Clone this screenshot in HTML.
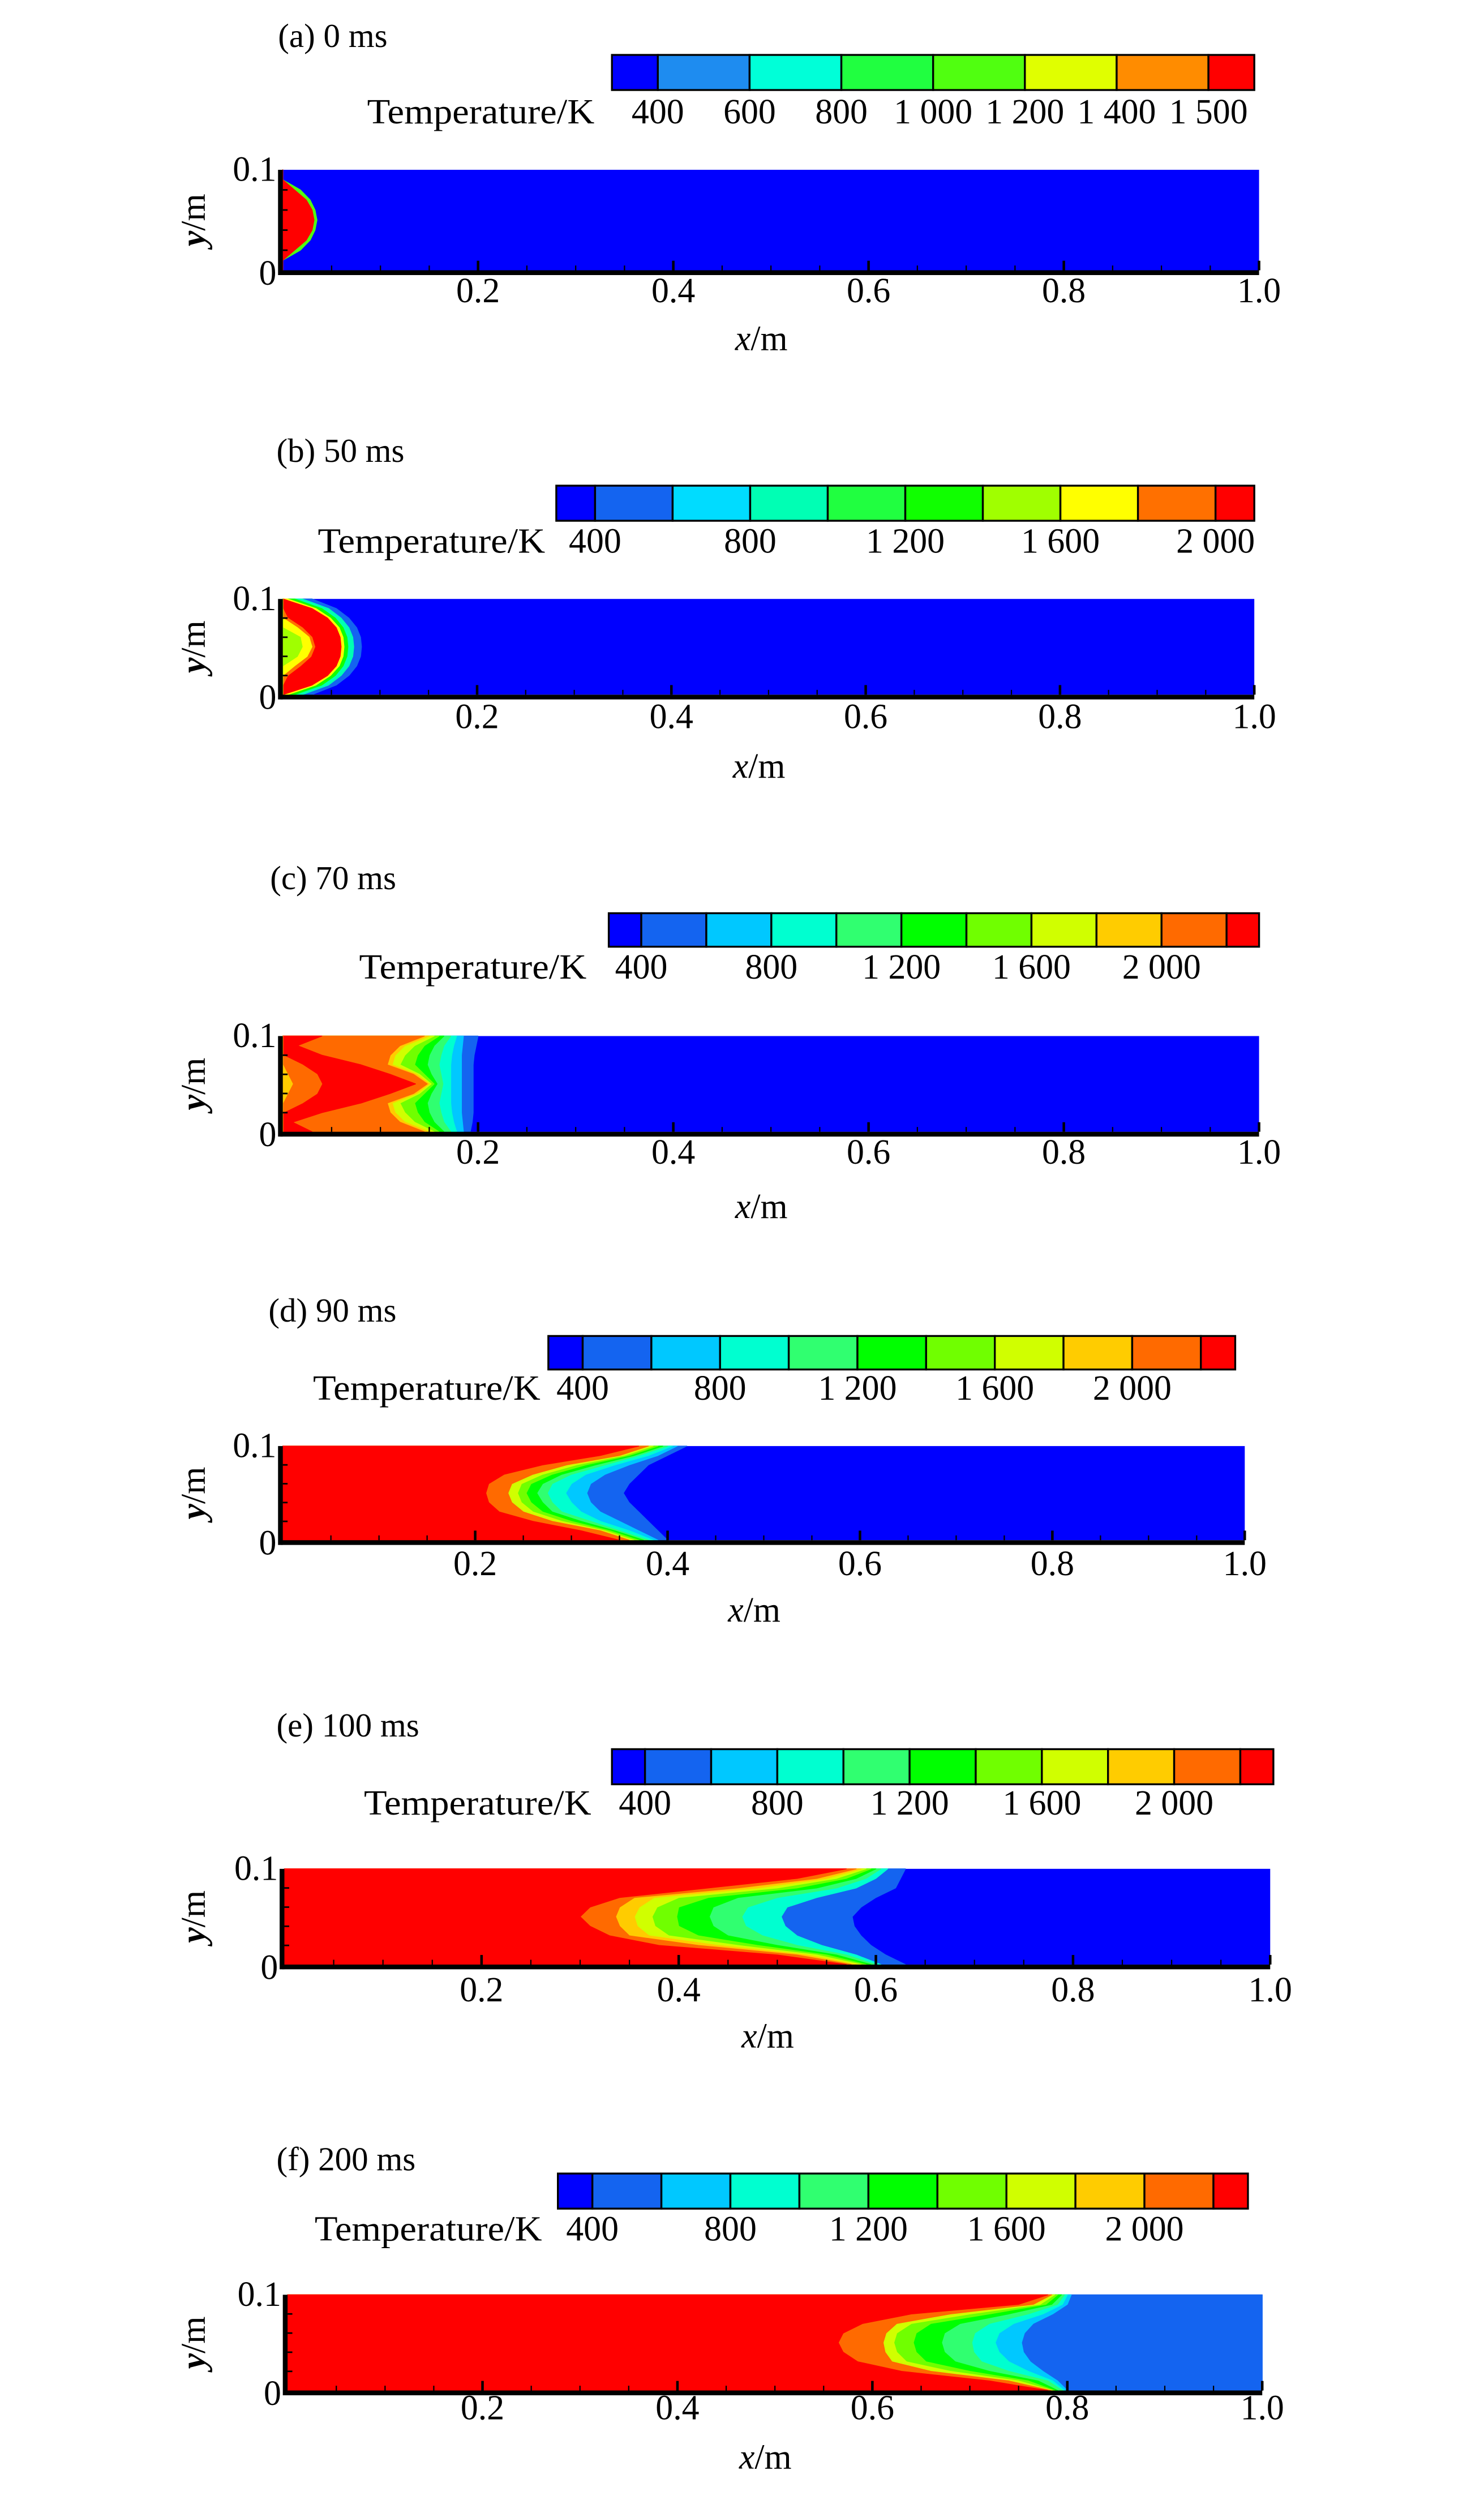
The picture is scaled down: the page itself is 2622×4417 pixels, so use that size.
<!DOCTYPE html>
<html><head><meta charset="utf-8"><title>Temperature contours</title>
<style>html,body{margin:0;padding:0;background:#fff;}svg{display:block;}text{font-family:"Liberation Serif",serif;fill:#000;}</style>
</head><body>
<svg id="fig" width="2622" height="4417" viewBox="0 0 924 1556" xmlns="http://www.w3.org/2000/svg"><g id="root" transform="matrix(0.99 0 0 0.9933 1.85 -0.85)"></g></svg>
<script>
// ---------- data ----------
const yGrid = [0,0.01,0.02,0.03,0.04,0.05,0.06,0.07,0.08,0.09,0.1];
const xTicks = [0.2,0.4,0.6,0.8,1.0];
const xTickLabels = ["0.2","0.4","0.6","0.8","1.0"];
const yTickLabels = ["0","0.1"];
const panelTitles = ["(a) 0 ms","(b) 50 ms","(c) 70 ms","(d) 90 ms","(e) 100 ms","(f) 200 ms"];

const palette8 = ['#0000ff','#1e8cf0','#00ffd8','#20ff40','#50ff10','#e0ff00','#ff8c00','#ff0000'];
const palette10 = ['#0000ff','#1464f0','#00dcff','#00ffb4','#20ff40','#10ff00','#a0ff00','#ffff00','#ff7000','#ff0000'];
const palette11 = ['#0000ff','#1464f0','#00c8ff','#00ffd0','#30ff70','#00ff00','#70ff00','#d0ff00','#ffcc00','#ff6a00','#ff0000'];

const cbLabelsA = ["400","600","800","1 000","1 200","1 400","1 500"];
const cbIdxA = [1,2,3,4,5,6,7];
const cbLabelsB = ["400","800","1 200","1 600","2 000"];
const cbIdxB = [1,3,5,7,9];

// panel (a)
const aEdge = [0,0,0.018,0.028,0.033,0.035,0.033,0.028,0.018,0,0];
const aRed  = [0,0,0.012,0.024,0.030,0.032,0.030,0.024,0.012,0,0];
// panel (b)
const bBlue2 = [0.03,0.055,0.068,0.076,0.080,0.081,0.080,0.076,0.068,0.055,0.03];
const bCyan  = [0.02,0.047,0.060,0.068,0.072,0.073,0.072,0.068,0.060,0.047,0.02];
const bGreen = [0.012,0.040,0.054,0.062,0.066,0.067,0.066,0.062,0.054,0.040,0.012];
const bYel   = [0.005,0.034,0.049,0.058,0.062,0.063,0.062,0.058,0.049,0.034,0.005];
const bRed   = [0,0.03,0.046,0.055,0.059,0.060,0.059,0.055,0.046,0.03,0];
const bCoreO = [0,0,0.005,0.018,0.029,0.033,0.030,0.020,0.005,0,0];
const bCoreY = [0,0,0,0.012,0.025,0.030,0.027,0.015,0,0,0];
const bCoreG = [0,0,0,0,0.015,0.020,0.018,0,0,0,0];
// panel (c)
const cBlue2 = [0.192,0.194,0.195,0.195,0.195,0.195,0.195,0.195,0.196,0.198,0.20];
const cLBlue = [0.185,0.184,0.183,0.183,0.183,0.183,0.183,0.183,0.183,0.184,0.185];
const cCyan  = [0.178,0.175,0.173,0.172,0.172,0.172,0.172,0.172,0.173,0.175,0.178];
const cGreen1= [0.172,0.165,0.162,0.160,0.162,0.164,0.162,0.160,0.162,0.165,0.172];
const cGreen = [0.165,0.155,0.150,0.148,0.152,0.158,0.152,0.148,0.150,0.155,0.165];
const cLGreen= [0.160,0.145,0.138,0.135,0.145,0.155,0.145,0.135,0.138,0.145,0.160];
const cYel   = [0.155,0.135,0.125,0.120,0.140,0.152,0.140,0.120,0.125,0.135,0.155];
const cGold  = [0.150,0.125,0.115,0.112,0.137,0.150,0.137,0.112,0.115,0.125,0.150];
const cOrange= [0.145,0.120,0.110,0.107,0.134,0.148,0.134,0.107,0.110,0.120,0.145];
const cRed   = [0.030,0.010,0.040,0.080,0.110,0.136,0.110,0.080,0.040,0.015,0.040];
const cCoreO = [0,0,0,0.020,0.035,0.040,0.035,0.020,0,0,0];
const cCoreY = [0,0,0,0,0.005,0.010,0.005,0,0,0,0];
// panel (d)
const dBlue2 = [0.40,0.39,0.38,0.37,0.36,0.354,0.36,0.37,0.38,0.40,0.42];
const dLBlue = [0.39,0.37,0.35,0.33,0.32,0.316,0.32,0.335,0.36,0.39,0.41];
const dCyan  = [0.385,0.36,0.33,0.31,0.30,0.294,0.30,0.315,0.345,0.38,0.405];
const dGreen1= [0.38,0.35,0.32,0.29,0.28,0.275,0.28,0.30,0.335,0.37,0.40];
const dGreen = [0.375,0.345,0.31,0.28,0.27,0.264,0.27,0.29,0.325,0.365,0.395];
const dLGreen= [0.37,0.34,0.30,0.27,0.258,0.253,0.258,0.28,0.315,0.36,0.39];
const dYel   = [0.365,0.335,0.29,0.26,0.248,0.244,0.248,0.27,0.305,0.355,0.385];
const dGold  = [0.36,0.33,0.28,0.25,0.238,0.234,0.238,0.26,0.295,0.35,0.38];
const dRed   = [0.35,0.31,0.26,0.225,0.214,0.211,0.214,0.23,0.27,0.33,0.37];
// panel (e)
const eBlue2 = [0.63,0.61,0.595,0.585,0.578,0.576,0.585,0.60,0.62,0.625,0.63];
const eLBlue = [0.605,0.58,0.545,0.52,0.508,0.504,0.51,0.54,0.58,0.60,0.612];
const eCyan  = [0.60,0.57,0.52,0.485,0.468,0.464,0.47,0.50,0.56,0.59,0.605];
const eGreen1= [0.595,0.56,0.50,0.45,0.435,0.431,0.435,0.46,0.54,0.58,0.60];
const eGreen = [0.59,0.55,0.48,0.42,0.40,0.398,0.40,0.43,0.52,0.57,0.595];
const eLGreen= [0.585,0.54,0.46,0.39,0.376,0.373,0.378,0.40,0.50,0.56,0.59];
const eYel   = [0.58,0.53,0.44,0.37,0.358,0.355,0.36,0.375,0.48,0.55,0.585];
const eGold  = [0.575,0.52,0.42,0.35,0.34,0.336,0.34,0.355,0.46,0.54,0.58];
const eRed   = [0.57,0.50,0.38,0.33,0.31,0.30,0.31,0.34,0.43,0.52,0.57];
// panel (f)
const fBlue2 = [1,1,1,1,1,1,1,1,1,1,1];
const fLBlue = [0.80,0.79,0.775,0.762,0.755,0.753,0.756,0.765,0.785,0.80,0.804];
const fCyan  = [0.797,0.785,0.76,0.74,0.73,0.726,0.73,0.745,0.775,0.795,0.80];
const fGreen1= [0.795,0.78,0.74,0.712,0.704,0.702,0.705,0.72,0.76,0.79,0.797];
const fGreen = [0.79,0.77,0.72,0.685,0.674,0.671,0.674,0.69,0.74,0.784,0.794];
const fLGreen= [0.787,0.76,0.70,0.655,0.645,0.642,0.645,0.66,0.72,0.778,0.79];
const fYel   = [0.785,0.75,0.68,0.635,0.625,0.622,0.625,0.64,0.70,0.772,0.787];
const fGold  = [0.783,0.74,0.66,0.62,0.613,0.611,0.614,0.625,0.68,0.765,0.784];
const fRed   = [0.78,0.72,0.63,0.585,0.57,0.565,0.57,0.59,0.64,0.75,0.78];

// ---------- layout ----------
const panels = [
 {id:'a',tx:173,ty:23,cb:[383,787,35,57],pal:palette8,labs:cbLabelsA,idx:cbIdxA,tempEnd:372,lblY:71,px:[176,790],py:[107,170],tickY:183,xlabY:213,
  layers:[[4,aEdge],[7,aRed]]},
 {id:'b',tx:172,ty:283,cb:[348,787,305,327],pal:palette10,labs:cbLabelsB,idx:cbIdxB,tempEnd:341,lblY:340,px:[176,787],py:[376,436],tickY:450,xlabY:481,
  layers:[[1,bBlue2],[3,bCyan],[5,bGreen],[7,bYel],[9,bRed],[8,bCoreO],[7,bCoreY],[6,bCoreG]]},
 {id:'c',tx:168,ty:551,cb:[381,790,573,594],pal:palette11,labs:cbLabelsB,idx:cbIdxB,tempEnd:367,lblY:607,px:[176,790],py:[650,710],tickY:723,xlabY:757,
  layers:[[1,cBlue2],[2,cLBlue],[3,cCyan],[4,cGreen1],[5,cGreen],[6,cLGreen],[7,cYel],[8,cGold],[9,cOrange],[10,cRed],[9,cCoreO],[8,cCoreY]]},
 {id:'d',tx:167,ty:822,cb:[343,775,838,859],pal:palette11,labs:cbLabelsB,idx:cbIdxB,tempEnd:338,lblY:871,px:[176,781],py:[907,966],tickY:981,xlabY:1010,
  layers:[[1,dBlue2],[2,dLBlue],[3,dCyan],[4,dGreen1],[5,dGreen],[6,dLGreen],[7,dYel],[8,dGold],[9,dGold],[10,dRed]]},
 {id:'e',tx:172,ty:1082,cb:[383,799,1097,1119],pal:palette11,labs:cbLabelsB,idx:cbIdxB,tempEnd:370,lblY:1131,px:[177,797],py:[1172,1232],tickY:1248,xlabY:1277,
  layers:[[1,eBlue2],[3,eLBlue],[4,eCyan],[5,eGreen1],[6,eGreen],[7,eLGreen],[8,eYel],[9,eGold],[10,eRed]]},
 {id:'f',tx:172,ty:1354,cb:[349,783,1363,1385],pal:palette11,labs:cbLabelsB,idx:cbIdxB,tempEnd:339,lblY:1398,px:[179,792],py:[1439,1499],tickY:1510,xlabY:1541,
  layers:[[1,fBlue2],[2,fLBlue],[3,fCyan],[4,fGreen1],[5,fGreen],[6,fLGreen],[7,fYel],[8,fGold],[9,fGold],[10,fRed]]}
];

const NS = 'http://www.w3.org/2000/svg';
const svg = document.getElementById('root');
function mk(tag, attrs, parent){
  const e = document.createElementNS(NS, tag);
  for (const k in attrs) e.setAttribute(k, attrs[k]);
  parent.appendChild(e);
  return e;
}

panels.forEach((p, pi) => {
  const g = mk('g', {}, svg);
  
  

  const sx = v => p.px[0] + v * (p.px[1] - p.px[0]);
  const sy = v => p.py[1] - v / 0.1 * (p.py[1] - p.py[0]);

  const t = mk('text', {x:p.tx, y:p.ty + 7, 'font-size':21}, g);
  t.textContent = panelTitles[pi];
  
  

  const n = p.pal.length;
  const unit = (p.cb[1] - p.cb[0]) / (n - 1);
  const cbg = mk('g', {}, g);
  
  
  const bx = i => i === 0 ? p.cb[0] : p.cb[0] + unit / 2 + (i - 1) * unit;
  for (let i = 0; i < n; i++) {
    const x0 = bx(i), x1 = i === n - 1 ? p.cb[1] : bx(i + 1);
    const r = mk('rect', {x:x0, y:p.cb[2], width:x1 - x0, height:p.cb[3] - p.cb[2], fill:p.pal[i], stroke:'#000', 'stroke-width':1.2}, cbg);
    
    
  }
  const tl = mk('text', {x:p.tempEnd - 143, y:p.lblY + 7, 'font-size':22, textLength:143, lengthAdjust:'spacingAndGlyphs'}, g);
  tl.textContent = 'Temperature/K';
  
  
  p.labs.forEach((lab, k) => {
    const tt = mk('text', {x:bx(p.idx[k]), y:p.lblY + 7, 'font-size':22, 'text-anchor':'middle'}, g);
    tt.textContent = lab;
    
    
  });

  const fg = mk('g', {}, g);
  
  
  const bg = mk('rect', {x:sx(0), y:sy(0.1), width:sx(1) - sx(0), height:sy(0) - sy(0.1), fill:p.pal[0]}, fg);
  
  
  p.layers.forEach(L => {
    const col = p.pal[L[0]], arr = L[1];
    let pts = [];
    for (let i = 0; i < yGrid.length; i++) pts.push(sx(arr[i]).toFixed(2) + ',' + sy(yGrid[i]).toFixed(2));
    pts.push(sx(0) + ',' + sy(0.1));
    pts.push(sx(0) + ',' + sy(0));
    const pg = mk('polygon', {points:pts.join(' '), fill:col, stroke:col, 'stroke-width':0.5, 'stroke-linejoin':'round'}, fg);
    
    
  });

  const ax = mk('g', {}, g);
  
  
  mk('line', {x1:sx(0) - 1.5, y1:sy(0) + 1.5, x2:sx(1), y2:sy(0) + 1.5, stroke:'#000', 'stroke-width':3}, ax);
  mk('line', {x1:sx(0) - 1.5, y1:sy(0) + 3, x2:sx(0) - 1.5, y2:sy(0.1), stroke:'#000', 'stroke-width':3}, ax);
  for (let k = 1; k <= 20; k++) {
    const v = k * 0.05, major = (k % 4 === 0);
    mk('line', {x1:sx(v), y1:sy(0), x2:sx(v), y2:sy(0) - (major ? 6 : 3), stroke:'#000', 'stroke-width':major ? 1.6 : 0.8}, ax);
  }
  for (let k = 1; k < 5; k++) {
    mk('line', {x1:sx(0), y1:sy(k * 0.02), x2:sx(0) + 3, y2:sy(k * 0.02), stroke:'#000', 'stroke-width':1}, ax);
  }
  xTicks.forEach((v, k) => {
    const tx = mk('text', {x:sx(v), y:p.tickY + 7, 'font-size':22, 'text-anchor':'middle'}, g);
    tx.textContent = xTickLabels[k];
    
    
  });
  [0, 0.1].forEach((v, k) => {
    const ty = mk('text', {x:sx(0) - 4, y:sy(v) + (k === 0 ? 9 : 7), 'font-size':22, 'text-anchor':'end'}, g);
    ty.textContent = yTickLabels[k];
    
    
  });
  const xl = mk('text', {x:(sx(0) + sx(1)) / 2 - 6, y:p.xlabY + 7, 'font-size':22, 'text-anchor':'middle'}, g);
  xl.innerHTML = '<tspan font-style="italic">x</tspan>/m';
  
  
  const cy = (sy(0) + sy(0.1)) / 2;
  const yl = mk('text', {x:127, y:cy, 'font-size':22, 'text-anchor':'middle', transform:'rotate(-90 127 ' + cy + ')'}, g);
  yl.innerHTML = '<tspan font-style="italic" font-weight="bold">y</tspan>/m';
  
  
});
</script>
</body></html>
